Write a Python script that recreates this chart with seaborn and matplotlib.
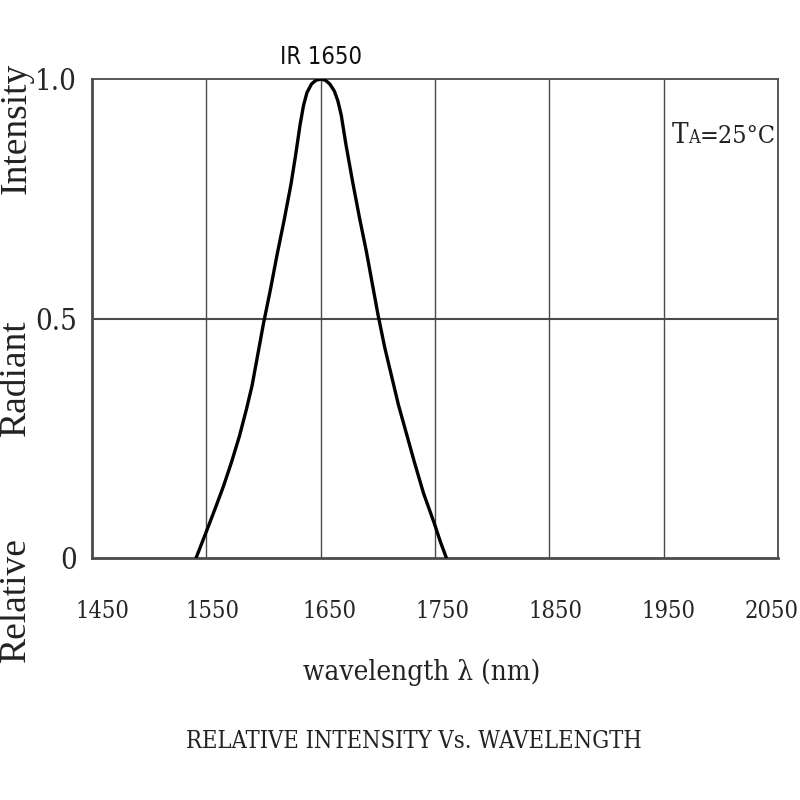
import matplotlib
matplotlib.use("Agg")
import matplotlib.pyplot as plt
import matplotlib.transforms as mtransforms
import seaborn as sns
import pandas as pd
from matplotlib import font_manager

# ---- data ----
wavelength = [1541, 1550, 1558, 1565, 1572, 1579, 1585, 1590, 1595, 1600, 1606, 1612, 1618, 1624,
              1628, 1632, 1635, 1638, 1642, 1646, 1650, 1654, 1658, 1662, 1665, 1668, 1672, 1678,
              1684, 1690, 1695, 1700, 1706, 1712, 1718, 1725, 1732, 1740, 1749, 1755, 1760]
intensity = [0.0, 0.055, 0.105, 0.15, 0.20, 0.255, 0.31, 0.36, 0.425, 0.49, 0.56, 0.635, 0.705, 0.78,
             0.84, 0.905, 0.945, 0.972, 0.99, 0.998, 1.0, 0.998, 0.99, 0.975, 0.955, 0.925, 0.865, 0.785,
             0.71, 0.64, 0.575, 0.51, 0.44, 0.38, 0.32, 0.26, 0.20, 0.135, 0.075, 0.032, 0.0]
x_ticks = [1450, 1550, 1650, 1750, 1850, 1950, 2050]
y_ticks = [0, 0.5, 1.0]
y_tick_labels = ["0", "0.5", "1.0"]
y_label_words = ["Relative", "Radiant", "Intensity"]

df = pd.DataFrame({"wavelength": wavelength, "intensity": intensity})

sns.set_theme(style="white")

# font selection
fl = font_manager.fontManager.ttflist
names = {f.name for f in fl}
serif_kw = {"family": "Liberation Serif"}
if "DejaVu Serif Condensed" in names:
    serif_kw = {"family": "DejaVu Serif Condensed"}
elif any(f.name == "DejaVu Serif" and str(f.stretch) in ("condensed", "semi-condensed") for f in fl):
    serif_kw = {"family": "DejaVu Serif", "stretch": "condensed"}
if "Liberation Sans Narrow" in names:
    sans_kw = {"family": "Liberation Sans Narrow"}
elif "DejaVu Sans Condensed" in names:
    sans_kw = {"family": "DejaVu Sans Condensed"}
else:
    sans_kw = {"family": "DejaVu Sans", "stretch": "condensed"}
plt.rcParams["font.family"] = ["Liberation Serif", "DejaVu Sans"]

fig = plt.figure(figsize=(8, 8), dpi=100)
ax = fig.add_axes([0.115, 0.3025, 0.8575, 0.5985])

grid_c = "#4a4a4a"
sns.lineplot(data=df, x="wavelength", y="intensity", ax=ax, color="black", linewidth=2.4,
             estimator=None, sort=False, zorder=5)

ax.set_xlim(1450, 2050)
ax.set_ylim(0, 1.0)
ax.set_xticks(x_ticks)
ax.set_yticks(y_ticks)
ax.set_xticklabels([str(v) for v in x_ticks], fontsize=17, **serif_kw)
ax.set_yticklabels(y_tick_labels, fontsize=21, **serif_kw)
ax.tick_params(axis="x", length=0, pad=30)
ax.tick_params(axis="y", length=0, pad=11)

# small horizontal offsets of tick labels as in the reference
offs = [10, 6, 9, 7, 6, 5, -6]
for lab, dx in zip(ax.get_xticklabels(), offs):
    lab.set_transform(lab.get_transform() + mtransforms.ScaledTranslation(dx / 100, 0, fig.dpi_scale_trans))

for v in x_ticks[1:-1]:
    ax.axvline(v, color=grid_c, linewidth=1.0, zorder=1)
ax.axhline(0.5, color=grid_c, linewidth=1.5, zorder=1)
for s in ["top", "right"]:
    ax.spines[s].set_color(grid_c)
    ax.spines[s].set_linewidth(1.3)
for s in ["left", "bottom"]:
    ax.spines[s].set_color(grid_c)
    ax.spines[s].set_linewidth(2.0)

ax.set_xlabel("")
ax.set_ylabel("")

# y label (words spread over the full height as in the reference)
for word, ypix in zip(y_label_words, [600, 378, 128]):
    fig.text(0.02, 1 - ypix / 800, word, rotation=90, ha="center", va="center",
             fontsize=27, family="Liberation Serif", color="#222222")

ax.text(0.48, -0.238, "wavelength λ (nm)", transform=ax.transAxes, ha="center", va="center",
        fontsize=20, color="#222222", **serif_kw)
fig.text(0.5175, 0.0725, "RELATIVE INTENSITY Vs. WAVELENGTH", ha="center", va="center",
         fontsize=17, color="#222222", **serif_kw)
ax.text(1650, 1.022, "IR 1650", ha="center", va="bottom", fontsize=17, color="#111111", **sans_kw)

# TA=25°C
ax.text(0.845, 0.866, "T", transform=ax.transAxes, ha="left", va="baseline", fontsize=20,
        color="#222222", **serif_kw)
ax.text(0.869, 0.866, "A", transform=ax.transAxes, ha="left", va="baseline", fontsize=13,
        color="#222222", **serif_kw)
ax.text(0.886, 0.866, "=25°C", transform=ax.transAxes, ha="left", va="baseline", fontsize=18,
        color="#222222", **serif_kw)

fig.savefig("out.png", dpi=100, facecolor="white")
